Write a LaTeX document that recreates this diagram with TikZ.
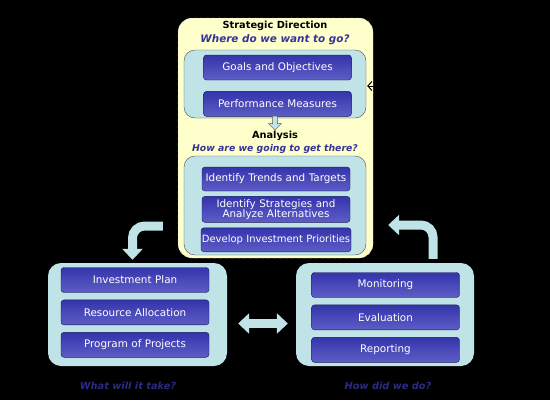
\documentclass[tikz,border=0pt]{standalone}
\usepackage{fontspec}
\setmainfont{DejaVu Sans}
\usepackage{tikz}
\usetikzlibrary{arrows.meta, positioning, calc, shapes.arrows}
\definecolor{panel}{HTML}{C0E3E7}
\definecolor{note}{HTML}{FFFFCC}
\definecolor{question}{HTML}{333399}
\definecolor{btntop}{HTML}{3434AC}
\definecolor{btnmid}{HTML}{26268E}
\definecolor{btnbot}{HTML}{5E5EC6}
\definecolor{btnline}{HTML}{1A1A58}
\tikzset{
    stage/.style={rectangle, draw=gray!55, dashed, fill=note, rounded corners=14pt, minimum width=195pt, minimum height=240pt},
    group/.style={rectangle, draw=gray!60!black, fill=panel, rounded corners=11pt},
    button/.style={rectangle, draw=btnline, top color=btntop, middle color=btnmid, bottom color=btnbot, rounded corners=3pt, minimum width=148pt, minimum height=25pt, text width=146pt, align=center, text=white, font=\fontsize{10.4}{11}\selectfont, inner sep=1pt},
    heading/.style={font=\fontsize{9.8}{11}\selectfont\bfseries},
    question/.style={text=question, font=\fontsize{10.4}{12}\selectfont\bfseries\itshape},
    blockarrow/.style={line width=9pt, draw=panel, -{Triangle[width=20pt, length=11pt]}, rounded corners=12pt}
}

\begin{document}
\begin{tikzpicture}[x=1pt, y=-1pt]
    \fill[black] (0,0) rectangle (550,400);

    % strategic direction and analysis
    \node [stage] (strategy) at (275.5,138) {};
    \node [heading] (sdtitle) at (275,26) {Strategic Direction};
    \node [question] (sdq) at (275,40) {Where do we want to go?};
    \node [group, minimum width=182pt, minimum height=68pt] (direction) at (275,84) {};
    \node [button] (goals) at (277.5,67.5) {Goals and Objectives};
    \node [button, below=11pt of goals] (measures) {Performance Measures};
    \node [single arrow, draw=gray!70!black, fill=panel, shape border rotate=270, minimum height=14pt, minimum width=13pt, single arrow head extend=3pt, inner sep=1.5pt] (down) at (275,122) {};
    \node [heading] (antitle) at (275,136) {Analysis};
    \node [question, font=\fontsize{9.3}{11}\selectfont\bfseries\itshape] (anq) at (275,149) {How are we going to get there?};
    \node [group, minimum width=182pt, minimum height=99pt] (analysis) at (275,205.5) {};
    \node [button, minimum height=24pt] (trends) at (276,179) {Identify Trends and Targets};
    \node [button, minimum height=26pt, below=5pt of trends, font=\fontsize{10.4}{10.2}\selectfont] (alternatives) {Identify Strategies and\\Analyze Alternatives};
    \node [button, minimum height=24pt, below=5pt of alternatives, text width=150pt, inner sep=0pt, font=\fontsize{10}{11}\selectfont] (priorities) {Develop Investment Priorities};

    % what will it take
    \node [group, draw=none, rounded corners=13pt, minimum width=179pt, minimum height=103pt] (plan) at (137.5,314.5) {};
    \node [button] (invest) at (135,280) {Investment Plan};
    \node [button, below=7pt of invest] (resource) {Resource Allocation};
    \node [button, below=7pt of resource] (program) {Program of Projects};
    \node [question, text=question!85!black, font=\fontsize{9.8}{11}\selectfont\bfseries\itshape] (planq) at (128,386) {What will it take?};

    % how did we do
    \node [group, draw=none, rounded corners=13pt, minimum width=178pt, minimum height=103pt] (review) at (385,314.5) {};
    \node [button] (monitor) at (385.5,285) {Monitoring};
    \node [button, below=7pt of monitor] (evaluation) {Evaluation};
    \node [button, below=7pt of evaluation] (reporting) {Reporting};
    \node [question, text=question!85!black, font=\fontsize{9.8}{11}\selectfont\bfseries\itshape] (reviewq) at (388,386) {How did we do?};

    \coordinate (feed) at ($(strategy.east)+(30,-52)$);
    \draw [-{Straight Barb[length=4pt, width=9pt]}, line width=1pt, black] (feed) -- ($(strategy.east)+(-6,-52)$);

    \draw [blockarrow] ($(strategy.west)+(-15,88)$) -| ($(plan.north)+(-5,-3)$);
    \draw [blockarrow] ($(review.north)+(48,-4)$) |- ($(strategy.east)+(15,87)$);
    \draw [blockarrow, rounded corners=0pt, {Triangle[width=20pt, length=11pt]}-{Triangle[width=20pt, length=11pt]}] ($(plan.east)+(11,9)$) -- ($(review.west)+(-8,9)$);
\end{tikzpicture}
\end{document}
